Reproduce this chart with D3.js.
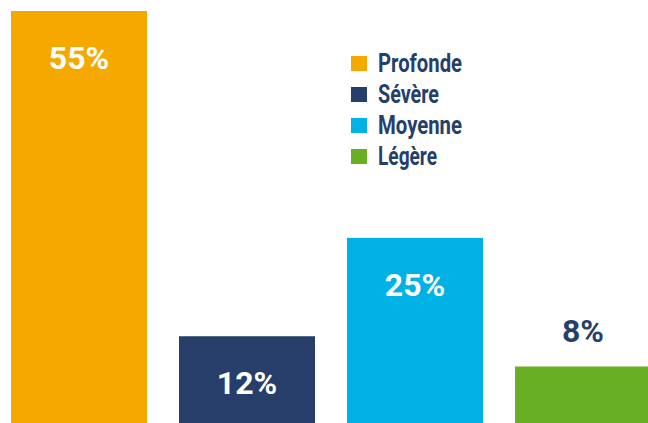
<!DOCTYPE html>
<html>
<head>
<meta charset="utf-8">
<script src="https://cdn.jsdelivr.net/npm/d3@7"></script>
<style>
  html, body { margin: 0; padding: 0; background: #ffffff; }
  svg { display: block; }
</style>
</head>
<body>
<svg id="chart" width="648" height="423"></svg>
<script>
const categories = ["Profonde", "Sévère", "Moyenne", "Légère"];
const values = [55, 12, 25, 8];
const valueLabels = ["55%", "12%", "25%", "8%"];
const colors = ["#F5A800", "#273E6A", "#00B1E6", "#68AF23"];

const W = 648, H = 423;
const svg = d3.select("#chart");

const pad = 32 / 168;
const x = d3.scaleBand()
  .domain(categories)
  .range([-5, 667])
  .paddingInner(pad)
  .paddingOuter(pad / 2);

const y = d3.scaleLinear()
  .domain([0, 55])
  .range([427, 11]);

const color = d3.scaleOrdinal().domain(categories).range(colors);

const data = categories.map((c, i) => ({ cat: c, v: values[i], label: valueLabels[i] }));

svg.selectAll("rect.bar")
  .data(data)
  .join("rect")
  .attr("class", "bar")
  .attr("x", d => x(d.cat))
  .attr("y", d => y(d.v))
  .attr("width", x.bandwidth())
  .attr("height", d => y(0) - y(d.v))
  .attr("fill", d => color(d.cat));

// value labels: inside for tall bars, above for short ones
const insideMin = 10;
svg.selectAll("text.val")
  .data(data)
  .join("text")
  .attr("class", "val")
  .attr("x", d => x(d.cat) + x.bandwidth() / 2)
  .attr("y", d => d.v >= insideMin ? y(d.v) + 58 : y(d.v) - 24)
  .attr("text-anchor", "middle")
  .attr("font-family", "Roboto, 'Noto Sans', sans-serif")
  .attr("font-weight", 700)
  .attr("font-size", 32)
  .attr("fill", d => d.v >= insideMin ? "#ffffff" : "#263F6A")
  .text(d => d.label);

// legend
const legendWidths = { "Profonde": 84, "Sévère": 61, "Moyenne": 84, "Légère": 59 };
const leg = svg.append("g").attr("transform", "translate(351, 72)");
const rows = leg.selectAll("g.row")
  .data(categories)
  .join("g")
  .attr("class", "row")
  .attr("transform", (d, i) => `translate(0, ${i * 31})`);

rows.append("rect")
  .attr("x", 0)
  .attr("y", -16)
  .attr("width", 16)
  .attr("height", 15)
  .attr("fill", d => color(d));

rows.append("text")
  .attr("x", 27)
  .attr("y", 0)
  .attr("font-family", "Roboto, 'Noto Sans', sans-serif")
  .attr("font-weight", 700)
  .attr("font-size", 26)
  .attr("fill", "#263F6A")
  .attr("textLength", d => legendWidths[d])
  .attr("lengthAdjust", "spacingAndGlyphs")
  .text(d => d);
</script>
</body>
</html>
